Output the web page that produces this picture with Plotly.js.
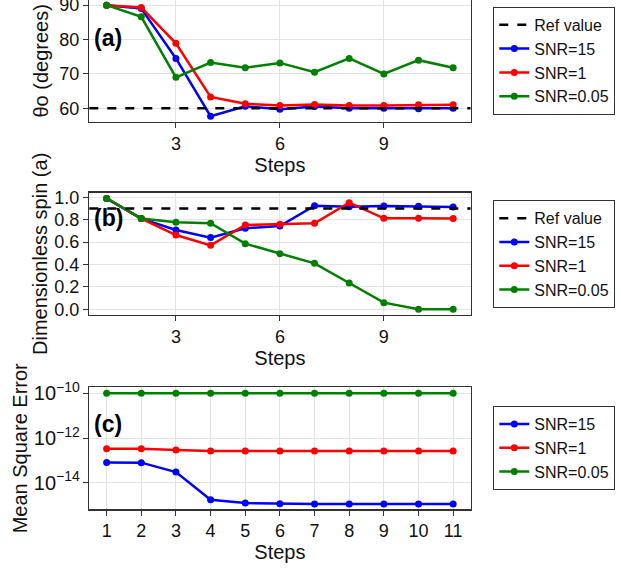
<!DOCTYPE html>
<html>
<head>
<meta charset="utf-8">
<script src="https://cdn.plot.ly/plotly-3.0.1.min.js"></script>
<style>html,body{margin:0;padding:0;background:#fff;}#chart{width:621px;height:569px;}</style>
</head>
<body>
<div id="chart"></div>
<script>
const steps = [1,2,3,4,5,6,7,8,9,10,11];
const seriesNames = ['SNR=15','SNR=1','SNR=0.05'];
const seriesColors = ['#0000ff','#ff0000','#008000'];

const thetaRef = 60;
const thetaSNR15  = [90, 89.0, 74.5, 57.7, 60.6, 59.7, 60.5, 60.0, 60.0, 59.9, 60.0];
const thetaSNR1   = [90, 89.3, 78.9, 63.3, 61.3, 60.8, 61.1, 60.8, 60.8, 61.0, 61.0];
const thetaSNR005 = [90, 86.6, 69.0, 73.3, 71.8, 73.2, 70.5, 74.5, 70.0, 74.0, 71.8];

const spinRef = 0.9;
const spinSNR15  = [0.99, 0.81, 0.708, 0.64, 0.723, 0.744, 0.925, 0.916, 0.922, 0.92, 0.913];
const spinSNR1   = [0.99, 0.81, 0.663, 0.571, 0.753, 0.759, 0.768, 0.952, 0.812, 0.812, 0.81];
const spinSNR005 = [0.99, 0.81, 0.777, 0.768, 0.586, 0.497, 0.41, 0.235, 0.059, 0.0, 0.0];

const mseSNR15  = [8.1e-14, 7.9e-14, 3.0e-14, 1.74e-15, 1.23e-15, 1.15e-15, 1.12e-15, 1.12e-15, 1.12e-15, 1.12e-15, 1.12e-15];
const mseSNR1   = [3.3e-13, 3.3e-13, 2.9e-13, 2.6e-13, 2.6e-13, 2.6e-13, 2.6e-13, 2.6e-13, 2.6e-13, 2.6e-13, 2.6e-13];
const mseSNR005 = [1e-10, 1e-10, 1e-10, 1e-10, 1e-10, 1e-10, 1e-10, 1e-10, 1e-10, 1e-10, 1e-10];

const FONT = 'Liberation Sans, Arial, Helvetica, sans-serif';
const panels = [
  {data:[thetaSNR15, thetaSNR1, thetaSNR005], ref: thetaRef, xa:'x', ya:'y', legend:'legend'},
  {data:[spinSNR15, spinSNR1, spinSNR005], ref: spinRef, xa:'x2', ya:'y2', legend:'legend2'},
  {data:[mseSNR15, mseSNR1, mseSNR005], ref: null, xa:'x3', ya:'y3', legend:'legend3'}
];

const traces = [];
const shapes = [];
panels.forEach((p, pi) => {
  if (p.ref !== null) {
    traces.push({x:[null], y:[null], xaxis:p.xa, yaxis:p.ya, legend:p.legend, name:'Ref value',
      mode:'lines', line:{color:'#000', width:2.5, dash:'dash'}});
    shapes.push({type:'line', xref: p.xa + ' domain', x0:0, x1:1, yref:p.ya, y0:p.ref, y1:p.ref,
      line:{color:'#000', width:2.5, dash:'dash'}, layer:'above'});
  }
  p.data.forEach((vals, si) => {
    traces.push({x:steps, y:vals, xaxis:p.xa, yaxis:p.ya, legend:p.legend, name:seriesNames[si],
      mode:'lines+markers', line:{color:seriesColors[si], width:2.5},
      marker:{color:seriesColors[si], size:7}});
  });
});

const xdom = [89.3/621, 470.5/621];
function px2dom(top, bottom){ return [1 - bottom/569, 1 - top/569]; }
const TICKFONT = {family:FONT, size:18, color:'#111'};
const TITLEFONT = {family:FONT, size:20, color:'#111'};
const axisCommon = {
  showline:true, mirror:true, linecolor:'#333', linewidth:1.3,
  ticks:'outside', ticklen:5, tickcolor:'#333', tickwidth:1,
  gridcolor:'#e3e3e3', gridwidth:1, zeroline:false,
  tickfont:TICKFONT, ticklabeloverflow:'allow'
};
function xax(anchor, dtick){
  return Object.assign({}, axisCommon, {domain:xdom, anchor:anchor, range:[0.5,11.5], dtick:dtick, tick0:0,
    title:{text:'Steps', font:TITLEFONT, standoff:4}});
}
const legendCommon = {xanchor:'left', yanchor:'middle', x:493.3/621, bordercolor:'#333', borderwidth:1,
  bgcolor:'#fff', font:{family:FONT, size:16, color:'#111'}, tracegroupgap:0, itemwidth:30};

const layout = {
  width:621, height:569,
  margin:{l:0, r:0, t:0, b:0},
  paper_bgcolor:'#fff', plot_bgcolor:'#fff',
  showlegend:true,
  xaxis: xax('y', 3),
  xaxis2: xax('y2', 3),
  xaxis3: xax('y3', 1),
  yaxis: Object.assign({}, axisCommon, {domain:px2dom(0,121.7), anchor:'x', range:[56.1, 91.5], dtick:10,
    title:{text:'θo (degrees)', font:TITLEFONT, standoff:5}}),
  yaxis2: Object.assign({}, axisCommon, {domain:px2dom(192.7,315), anchor:'x2', range:[-0.051, 1.041], dtick:0.2, tickformat:'.1f',
    title:{text:'Dimensionless spin (a)', font:TITLEFONT, standoff:1}}),
  yaxis3: Object.assign({}, axisCommon, {domain:px2dom(387.3,509.3), anchor:'x3', type:'log', range:[-15.19, -9.73], dtick:2,
    exponentformat:'power', tickfont:{family:FONT, size:16, color:'#111'},
    title:{text:'Mean Square Error', font:TITLEFONT, standoff:0}}),
  legend: Object.assign({}, legendCommon, {y:1 - 60.9/569}),
  legend2: Object.assign({}, legendCommon, {y:1 - 254.3/569}),
  legend3: Object.assign({}, legendCommon, {y:1 - 448/569}),
  shapes: shapes,
  annotations: [
    {text:'<b>(a)</b>', xref:'x domain', yref:'y domain', x:0.008, y:0.69, xanchor:'left', yanchor:'middle', showarrow:false, font:{family:FONT, size:23, color:'#000'}},
    {text:'<b>(b)</b>', xref:'x2 domain', yref:'y2 domain', x:0.008, y:0.79, xanchor:'left', yanchor:'middle', showarrow:false, font:{family:FONT, size:23, color:'#000'}},
    {text:'<b>(c)</b>', xref:'x3 domain', yref:'y3 domain', x:0.008, y:0.70, xanchor:'left', yanchor:'middle', showarrow:false, font:{family:FONT, size:23, color:'#000'}}
  ]
};

Plotly.newPlot('chart', traces, layout, {staticPlot:true, displayModeBar:false});
</script>
</body>
</html>
